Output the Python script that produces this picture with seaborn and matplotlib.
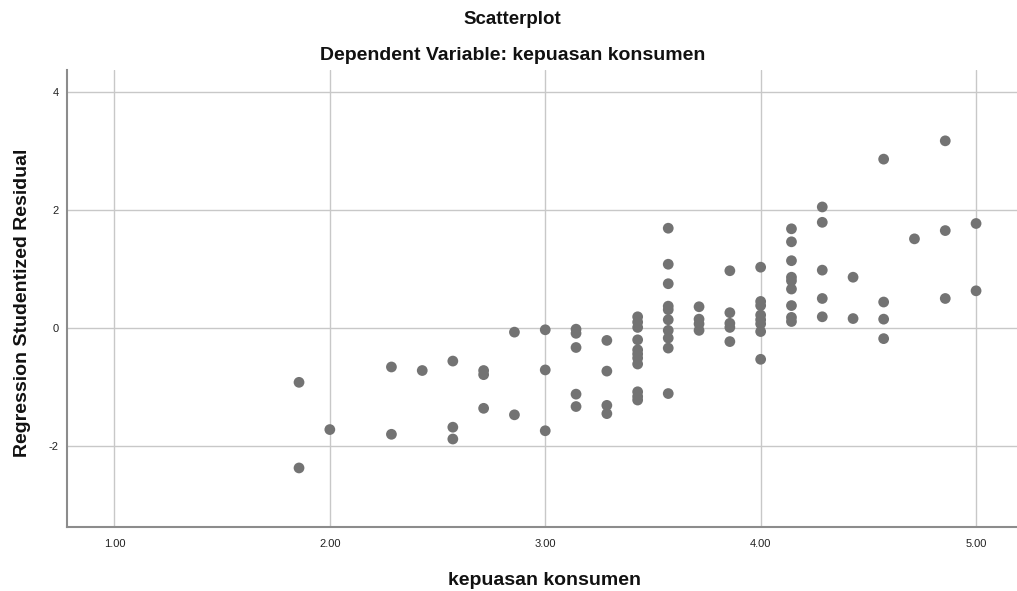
import matplotlib
matplotlib.use("Agg")
import matplotlib.pyplot as plt
import seaborn as sns
import pandas as pd

title_main = "Scatterplot"
title_sub = "Dependent Variable: kepuasan konsumen"
x_label = "kepuasan konsumen"
y_label = "Regression Studentized Residual"
x_ticks = [1.0, 2.0, 3.0, 4.0, 5.0]
x_tick_labels = ["1.00", "2.00", "3.00", "4.00", "5.00"]
y_ticks = [-2, 0, 2, 4]
y_tick_labels = ["-2", "0", "2", "4"]

kepuasan = [
    1.857, 1.857,
    2.000,
    2.286, 2.286,
    2.429,
    2.571, 2.571, 2.571,
    2.714, 2.714, 2.714,
    2.857, 2.857,
    3.000, 3.000, 3.000,
    3.143, 3.143, 3.143, 3.143, 3.143,
    3.286, 3.286, 3.286, 3.286,
    3.429, 3.429, 3.429, 3.429, 3.429, 3.429, 3.429, 3.429, 3.429, 3.429, 3.429,
    3.571, 3.571, 3.571, 3.571, 3.571, 3.571, 3.571, 3.571, 3.571, 3.571,
    3.714, 3.714, 3.714, 3.714,
    3.857, 3.857, 3.857, 3.857, 3.857,
    4.000, 4.000, 4.000, 4.000, 4.000, 4.000, 4.000, 4.000,
    4.143, 4.143, 4.143, 4.143, 4.143, 4.143, 4.143, 4.143, 4.143,
    4.286, 4.286, 4.286, 4.286, 4.286,
    4.429, 4.429,
    4.571, 4.571, 4.571, 4.571,
    4.714,
    4.857, 4.857, 4.857,
    5.000, 5.000,
]
residual = [
    -0.92, -2.37,
    -1.72,
    -0.66, -1.80,
    -0.72,
    -0.56, -1.68, -1.88,
    -0.72, -0.79, -1.36,
    -0.07, -1.47,
    -0.03, -0.71, -1.74,
    -0.02, -0.09, -0.33, -1.12, -1.33,
    -0.21, -0.73, -1.31, -1.45,
    0.19, 0.10, 0.01, -0.20, -0.37, -0.44, -0.51, -0.61, -1.08, -1.16, -1.22,
    1.69, 1.08, 0.75, 0.37, 0.31, 0.14, -0.04, -0.17, -0.34, -1.11,
    0.36, 0.15, 0.07, -0.04,
    0.97, 0.26, 0.08, 0.01, -0.23,
    1.03, 0.45, 0.38, 0.22, 0.14, 0.07, -0.06, -0.53,
    1.68, 1.46, 1.14, 0.86, 0.80, 0.66, 0.38, 0.18, 0.11,
    2.05, 1.79, 0.98, 0.50, 0.19,
    0.86, 0.16,
    2.86, 0.44, 0.15, -0.18,
    1.51,
    3.17, 1.65, 0.50,
    1.77, 0.63,
]

df = pd.DataFrame({"x": kepuasan, "y": residual})

sns.set_theme(style="white")
plt.rcParams["font.family"] = ["Liberation Sans", "DejaVu Sans"]

fig = plt.figure(figsize=(10.17, 5.91), dpi=100)
ax = fig.add_axes([0.0659, 0.1083, 0.9341, 0.7733])

ax.set_xlim(0.78, 5.19)
ax.set_ylim(-3.37, 4.37)
ax.set_xticks(x_ticks)
ax.set_xticklabels(x_tick_labels)
ax.set_yticks(y_ticks)
ax.set_yticklabels(y_tick_labels)
ax.grid(True, color="#c8c8c8", linewidth=1.0)
ax.set_axisbelow(True)

sns.scatterplot(data=df, x="x", y="y", ax=ax, color="#737373", s=60,
                edgecolor="none", linewidth=0, zorder=3)

for s in ["top", "right"]:
    ax.spines[s].set_visible(False)
for s in ["left", "bottom"]:
    ax.spines[s].set_color("#8c8c8c")
    ax.spines[s].set_linewidth(1.5)

ax.tick_params(axis="both", labelsize=8, length=0, colors="#222222")
ax.tick_params(axis="y", pad=6)
ax.tick_params(axis="x", pad=9)
ax.set_xlabel(x_label, fontsize=14, fontweight="bold", color="#111111")
ax.set_ylabel(y_label, fontsize=14, fontweight="bold", color="#111111")
ax.xaxis.set_label_coords(0.503, -0.118)
ax.yaxis.set_label_coords(-0.047, 0.49)
ax.xaxis.label.set_va("center")
ax.yaxis.label.set_va("center")

fig.text(0.504, 1 - 20 / 591, title_main, ha="center", va="center",
         fontsize=13.5, fontweight="bold", color="#111111")
fig.text(0.504, 1 - 56 / 591, title_sub, ha="center", va="center",
         fontsize=14, fontweight="bold", color="#111111")

fig.savefig("out.png", dpi=100)
